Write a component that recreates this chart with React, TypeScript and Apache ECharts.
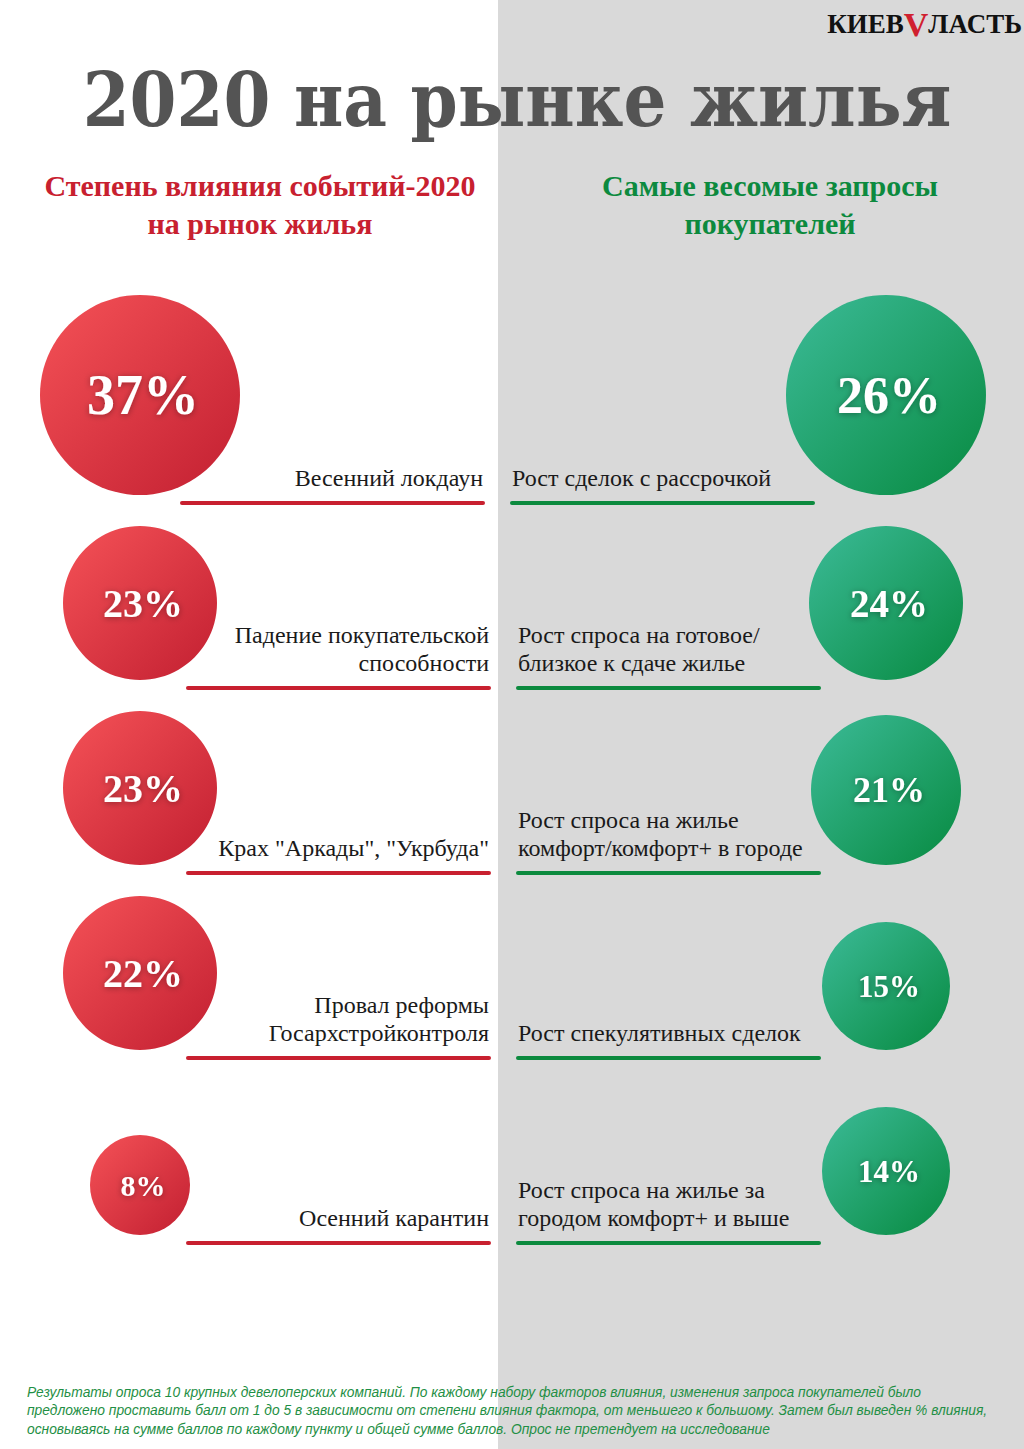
import React, { useEffect, useRef } from 'react';
import * as echarts from 'echarts';

// ---------- DATA ----------
const leftCategories = [
  'Весенний локдаун',
  'Падение покупательской\nспособности',
  'Крах "Аркады", "Укрбуда"',
  'Провал реформы\nГосархстройконтроля',
  'Осенний карантин',
];
const leftValues = [37, 23, 23, 22, 8];

const rightCategories = [
  'Рост сделок с рассрочкой',
  'Рост спроса на готовое/\nблизкое к сдаче жилье',
  'Рост спроса на жилье\nкомфорт/комфорт+ в городе',
  'Рост спекулятивных сделок',
  'Рост спроса на жилье за\nгородом комфорт+ и выше',
];
const rightValues = [26, 24, 21, 15, 14];

const rowLabels = ['1', '2', '3', '4', '5'];

const TITLE = '2020 на рынке жилья';
const LEFT_HEADING = 'Степень влияния событий-2020\nна рынок жилья';
const RIGHT_HEADING = 'Самые весомые запросы\nпокупателей';
const FOOTNOTE_LINES = [
  'Результаты опроса 10 крупных девелоперских компаний. По каждому набору факторов влияния, изменения запроса покупателей было',
  'предложено проставить балл от 1 до 5 в зависимости от степени влияния фактора, от меньшего к большому. Затем был выведен % влияния,',
  'основываясь на сумме баллов по каждому пункту и общей сумме баллов. Опрос не претендует на исследование',
];

// ---------- LAYOUT / STYLE ----------
const W = 1024;
const H = 1449;
const LEFT_CX = 140;
const RIGHT_CX = 886;
const LEFT_SIZES = [200, 154, 154, 154, 100];
const RIGHT_SIZES = [200, 154, 150, 128, 128];
const LEFT_FONTS = [56, 40, 40, 40, 30];
const RIGHT_FONTS = [52, 39, 36, 31, 31];
const RED = '#c8202f';
const GREEN = '#0c8a3e';
const SERIF = '"Liberation Serif", "DejaVu Serif", serif';

const redGrad = () =>
  new echarts.graphic.LinearGradient(0, 0, 1, 1, [
    { offset: 0, color: '#f55257' },
    { offset: 1, color: '#c21f31' },
  ]);
const greenGrad = () =>
  new echarts.graphic.LinearGradient(0, 0, 1, 1, [
    { offset: 0, color: '#3cbb98' },
    { offset: 1, color: '#078a40' },
  ]);

function circleSeries(values: number[], sizes: number[], fonts: number[], cx: number, grad: () => any) {
  return {
    type: 'scatter',
    data: values.map((v, i) => ({
      value: [cx, i, v],
      symbolSize: sizes[i],
      symbolOffset: [0, -(sizes[i] / 2 + 8)],
      label: { fontSize: fonts[i] },
    })),
    symbol: 'circle',
    itemStyle: { color: grad(), opacity: 1 },
    label: {
      show: true,
      position: 'inside',
      offset: [3, 0],
      formatter: (p: any) => p.value[2] + '%',
      color: '#ffffff',
      fontFamily: SERIF,
      fontWeight: 'bold',
      textShadowColor: 'rgba(0,0,0,0.35)',
      textShadowBlur: 6,
      textShadowOffsetY: 1,
    },
    z: 5,
  };
}

function labelSeries(labels: string[], side: 'left' | 'right', color: string) {
  return {
    type: 'custom',
    data: labels.map((_, i) => [0, i]),
    renderItem: (params: any, api: any) => {
      const i = params.dataIndex;
      const y = api.coord([0, api.value(1)])[1];
      const shift = i === 0 ? -6 : 0;
      const x1 = (side === 'left' ? 188 : 518) + shift;
      const x2 = x1 + 301;
      return {
        type: 'group',
        children: [
          {
            type: 'line',
            shape: { x1, y1: y, x2, y2: y },
            style: { stroke: color, lineWidth: 4, lineCap: 'round' },
          },
          {
            type: 'text',
            style: {
              text: labels[i],
              x: side === 'left' ? x2 : x1,
              y: y - 11,
              align: side === 'left' ? 'right' : 'left',
              verticalAlign: 'bottom',
              fontFamily: SERIF,
              fontSize: 24,
              lineHeight: 28,
              fill: '#1a1a1a',
            },
          },
        ],
      };
    },
    z: 4,
  };
}

export default function App() {
  const ref = useRef<HTMLDivElement>(null);
  useEffect(() => {
    if (!ref.current) return;
    const chart = echarts.init(ref.current, null, { renderer: 'svg', width: W, height: H });
    const option: any = {
      animation: false,
      backgroundColor: '#ffffff',
      grid: { left: 0, right: 0, top: 410.5, height: 925, containLabel: false },
      xAxis: { type: 'value', min: 0, max: W, show: false },
      yAxis: { type: 'category', data: rowLabels, inverse: true, show: false, boundaryGap: true },
      graphic: [
        {
          type: 'rect',
          shape: { x: 498, y: 0, width: W - 498, height: H },
          style: { fill: '#d9d9d9' },
          z: -10,
          silent: true,
        },
        {
          type: 'text',
          x: 1022,
          y: 24,
          style: {
            text: '{a|КИЕВ}{v|V}{a|ЛАСТЬ}',
            align: 'right',
            verticalAlign: 'middle',
            rich: {
              a: { fontFamily: SERIF, fontWeight: 'bold', fontSize: 27, fill: '#111111' },
              v: { fontFamily: SERIF, fontWeight: 'bold', fontSize: 34, fill: '#d0202f' },
            },
          },
        },
        {
          type: 'text',
          x: 517,
          y: 100,
          style: {
            text: TITLE,
            align: 'center',
            verticalAlign: 'middle',
            fontFamily: '"DejaVu Serif Condensed", "DejaVu Serif", serif',
            fontWeight: 'bold',
            fontSize: 75,
            fill: '#545454',
          },
        },
        {
          type: 'text',
          x: 260,
          y: 204,
          style: {
            text: LEFT_HEADING,
            align: 'center',
            verticalAlign: 'middle',
            fontFamily: SERIF,
            fontWeight: 'bold',
            fontSize: 30,
            lineHeight: 38,
            fill: RED,
          },
        },
        {
          type: 'text',
          x: 770,
          y: 204,
          style: {
            text: RIGHT_HEADING,
            align: 'center',
            verticalAlign: 'middle',
            fontFamily: SERIF,
            fontWeight: 'bold',
            fontSize: 30,
            lineHeight: 38,
            fill: GREEN,
          },
        },
        ...FOOTNOTE_LINES.map((t, i) => ({
          type: 'text',
          x: 27,
          y: 1392 + i * 18.5,
          style: {
            text: t,
            align: 'left',
            verticalAlign: 'middle',
            fontFamily: '"Liberation Sans Narrow", "Liberation Sans", sans-serif',
            fontStyle: 'italic',
            fontSize: 13.8,
            fill: '#1f8f45',
          },
        })),
      ],
      series: [
        circleSeries(leftValues, LEFT_SIZES, LEFT_FONTS, LEFT_CX, redGrad),
        circleSeries(rightValues, RIGHT_SIZES, RIGHT_FONTS, RIGHT_CX, greenGrad),
        labelSeries(leftCategories, 'left', RED),
        labelSeries(rightCategories, 'right', GREEN),
      ],
    };
    chart.setOption(option);
    return () => chart.dispose();
  }, []);
  return (
    <div
      ref={ref}
      style={{ position: 'absolute', left: 0, top: 0, width: W, height: H }}
    />
  );
}
